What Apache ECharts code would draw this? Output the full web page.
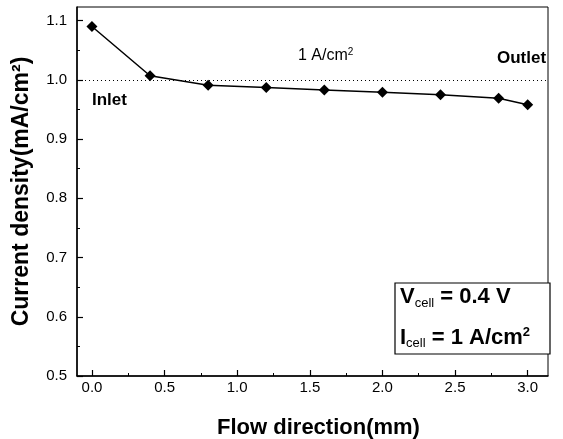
<!DOCTYPE html>
<html>
<head>
<meta charset="utf-8">
<script src="https://cdn.jsdelivr.net/npm/echarts@6/dist/echarts.min.js"></script>
<style>
  html, body { margin: 0; padding: 0; background: #fff; }
  #chart { width: 563px; height: 439px; }
</style>
</head>
<body>
<div id="chart"></div>
<script>
  // data
  var flowPos = [0, 0.4, 0.8, 1.2, 1.6, 2.0, 2.4, 2.8, 3.0];
  var density = [1.09, 1.007, 0.991, 0.987, 0.983, 0.979, 0.975, 0.969, 0.958];
  var xTicks = [0, 0.5, 1.0, 1.5, 2.0, 2.5, 3.0];
  var xMinor = [0.25, 0.75, 1.25, 1.75, 2.25, 2.75];
  var yTicks = [0.5, 0.6, 0.7, 0.8, 0.9, 1.0, 1.1];
  var yMinor = [0.55, 0.65, 0.75, 0.85, 0.95, 1.05];
  var refLevel = 1.0;

  var font = 'Liberation Sans';
  var chart = echarts.init(document.getElementById('chart'));

  var points = flowPos.map(function (x, i) { return [x, density[i]]; });
  var xMin = -0.103, xMax = 3.14, yMin = 0.5, yMax = 1.123;

  var option = {
    backgroundColor: '#fff',
    animation: false,
    grid: {
      left: 77, right: 15, top: 7, bottom: 63,
      outerBoundsMode: 'none',
      show: true, borderColor: '#000', borderWidth: 1
    },
    xAxis: [{
      type: 'value', min: xMin, max: xMax,
      name: 'Flow direction(mm)', nameLocation: 'middle', nameGap: 41,
      nameTextStyle: { fontFamily: font, fontSize: 22, fontWeight: 'bold', color: '#000', padding: [0, 0, 0, 12] },
      axisLine: { show: true, onZero: false, lineStyle: { color: '#000', width: 1.5 } },
      axisTick: { inside: true, length: 6, customValues: xTicks, lineStyle: { color: '#000', width: 1.2 } },
      axisLabel: {
        customValues: xTicks, margin: 4, color: '#000', fontFamily: font, fontSize: 15,
        formatter: function (v) { return v.toFixed(1); }
      },
      splitLine: { show: false }
    }, {
      type: 'value', min: xMin, max: xMax, position: 'bottom',
      axisLine: { show: false },
      axisTick: { inside: true, length: 3, customValues: xMinor, lineStyle: { color: '#000', width: 1 } },
      axisLabel: { show: false },
      splitLine: { show: false }
    }],
    yAxis: [{
      type: 'value', min: yMin, max: yMax,
      name: 'Current density(mA/cm²)', nameLocation: 'middle', nameGap: 44,
      nameTextStyle: { fontFamily: font, fontSize: 23, fontWeight: 'bold', color: '#000' },
      axisLine: { show: true, onZero: false, lineStyle: { color: '#000', width: 1.5 } },
      axisTick: { inside: true, length: 6, customValues: yTicks, lineStyle: { color: '#000', width: 1.2 } },
      axisLabel: {
        customValues: yTicks, margin: 10, color: '#000', fontFamily: font, fontSize: 15,
        formatter: function (v) { return v.toFixed(1); }
      },
      splitLine: { show: false }
    }, {
      type: 'value', min: yMin, max: yMax, position: 'left',
      axisLine: { show: false, onZero: false },
      axisTick: { inside: true, length: 3, customValues: yMinor, lineStyle: { color: '#000', width: 1 } },
      axisLabel: { show: false },
      splitLine: { show: false }
    }],
    series: [{
      type: 'line',
      data: points,
      symbol: 'diamond',
      symbolSize: 11,
      itemStyle: { color: '#000' },
      lineStyle: { color: '#000', width: 1.5 },
      markLine: {
        silent: true,
        symbol: 'none',
        label: { show: false },
        lineStyle: { color: '#000', type: [1, 3], width: 1 },
        data: [{ yAxis: refLevel }]
      }
    }],
    graphic: [
      { type: 'text', left: 298, top: 47,
        style: {
          rich: {
            n: { fontFamily: font, fontSize: 16, fill: '#000' },
            sup: { fontFamily: font, fontSize: 10, fill: '#000', padding: [0, 0, 8, 0] }
          },
          text: '{n|1 A/cm}{sup|2}'
        } },
      { type: 'text', left: 497, top: 50,
        style: { text: 'Outlet', font: 'bold 17px "Liberation Sans"', fill: '#000' } },
      { type: 'text', left: 92, top: 92,
        style: { text: 'Inlet', font: 'bold 17px "Liberation Sans"', fill: '#000' } },
      { type: 'rect', shape: { x: 395, y: 283, width: 155, height: 71 },
        style: { fill: '#fff', stroke: '#000', lineWidth: 1.2 } },
      { type: 'text', left: 400, top: 286,
        style: {
          rich: {
            b: { fontFamily: font, fontSize: 22, fontWeight: 'bold', fill: '#000' },
            s: { fontFamily: font, fontSize: 13, fill: '#000', padding: [12, 0, 0, 0] }
          },
          text: '{b|V}{s|cell}{b| = 0.4 V}'
        } },
      { type: 'text', left: 400, top: 326,
        style: {
          rich: {
            b: { fontFamily: font, fontSize: 22, fontWeight: 'bold', fill: '#000' },
            s: { fontFamily: font, fontSize: 13, fill: '#000', padding: [12, 0, 0, 0] },
            sup: { fontFamily: font, fontSize: 13, fontWeight: 'bold', fill: '#000', padding: [0, 0, 10, 0] }
          },
          text: '{b|I}{s|cell}{b| = 1 A/cm}{sup|2}'
        } }
    ]
  };

  chart.setOption(option);
</script>
</body>
</html>
